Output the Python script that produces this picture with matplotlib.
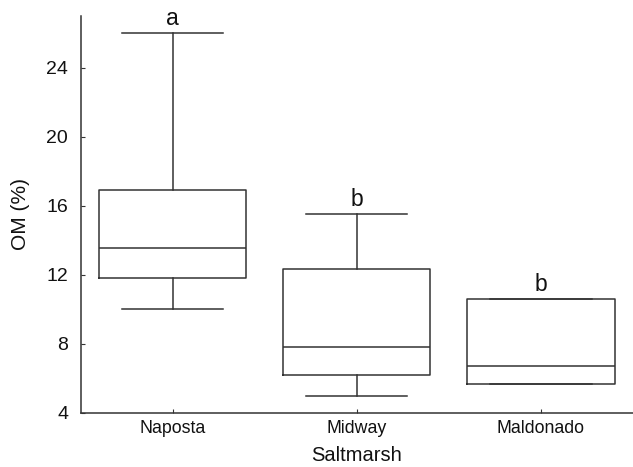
import matplotlib.pyplot as plt

plt.rcParams['font.family'] = ['Liberation Sans', 'DejaVu Sans']

# Box statistics for organic matter per saltmarsh
sites = ["Naposta", "Midway", "Maldonado"]
whisker_low = [10.0, 4.95, 5.66]
q1 = [11.83, 6.17, 5.66]
median = [13.53, 7.83, 6.72]
q3 = [16.9, 12.31, 10.61]
whisker_high = [26.0, 15.52, 10.61]
groups = ["a", "b", "b"]

stats = []
for i, s in enumerate(sites):
    stats.append({"label": s, "whislo": whisker_low[i], "q1": q1[i], "med": median[i],
                  "q3": q3[i], "whishi": whisker_high[i], "fliers": []})

fig = plt.figure(figsize=(6.33, 4.67), dpi=100)
ax = fig.add_axes([0.1275, 0.1163, 0.8725, 0.8494])

col = "#333333"
txt = "#111111"
lw = 1.1
ax.bxp(stats, positions=range(len(sites)), widths=0.8, showfliers=False,
       boxprops=dict(color=col, linewidth=lw),
       medianprops=dict(color=col, linewidth=lw),
       whiskerprops=dict(color=col, linewidth=lw),
       capprops=dict(color=col, linewidth=lw),
       capwidths=0.55)

# Significance letters above each group
for i, g in enumerate(groups):
    ax.annotate(g, (i, whisker_high[i]), xytext=(0, 2), textcoords="offset points",
                ha="center", va="bottom", fontsize=16.5, color=txt)

ax.set_xlim(-0.5, 2.5)
ax.set_ylim(4, 27)
ax.set_yticks([4, 8, 12, 16, 20, 24])
ax.set_xticks(range(len(sites)))
ax.set_xticklabels(sites)

for side in ["top", "right"]:
    ax.spines[side].set_visible(False)
for side in ["left", "bottom"]:
    ax.spines[side].set_color(col)
    ax.spines[side].set_linewidth(lw)

ax.tick_params(axis="y", direction="in", length=3, width=0.8, color=col,
               labelsize=14, pad=9, labelcolor=txt)
ax.tick_params(axis="x", direction="in", length=3, width=0.8, color=col,
               labelsize=12.8, pad=5, labelcolor=txt)

ax.set_xlabel("Saltmarsh", fontsize=14.5, color=txt, labelpad=7)
ax.set_ylabel("OM (%)", fontsize=15, color=txt, labelpad=12)

fig.savefig("out.png", dpi=100)
